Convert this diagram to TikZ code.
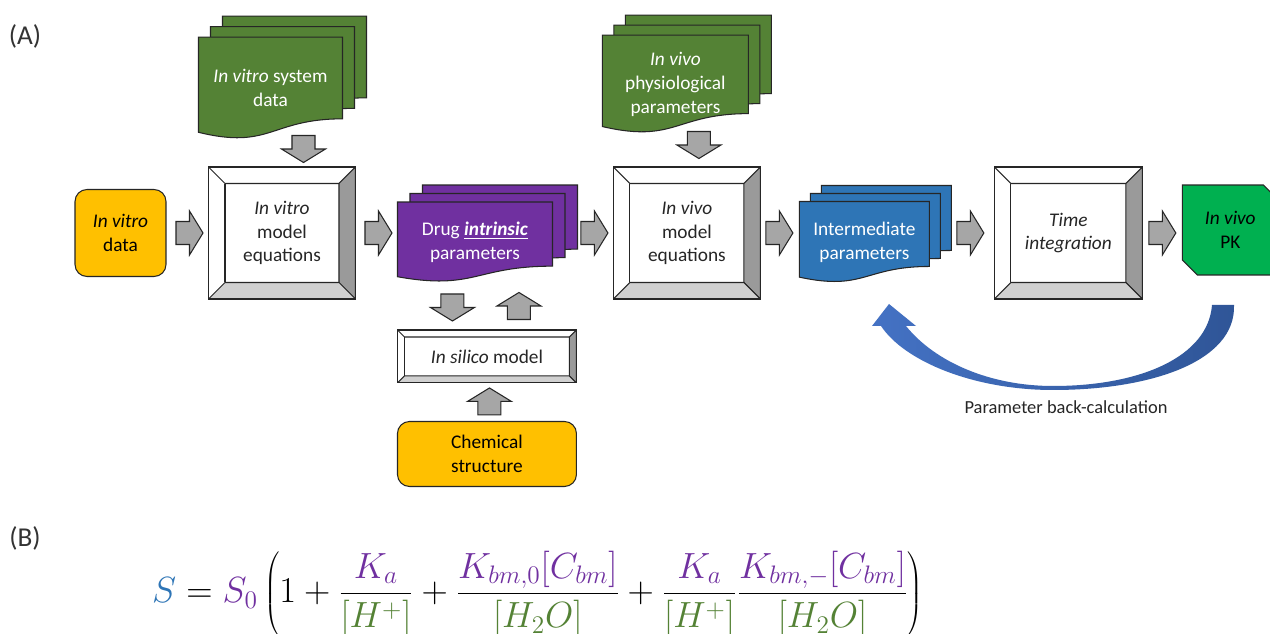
\documentclass[tikz,border=0pt]{standalone}
\usepackage{fontspec}
\setmainfont{Carlito}
\usetikzlibrary{positioning, calc}

\definecolor{vitroyellow}{HTML}{FFC000}
\definecolor{docgreen}{HTML}{548235}
\definecolor{drugpurple}{HTML}{7030A0}
\definecolor{midblue}{HTML}{2E75B6}
\definecolor{pkgreen}{HTML}{00B050}
\definecolor{arrowgray}{HTML}{A6A6A6}
\definecolor{bevelgray}{HTML}{9A9A9A}
\definecolor{bevellight}{HTML}{D0D0D0}
\definecolor{curvelight}{HTML}{4472C4}
\definecolor{curvedark}{HTML}{2F5597}
\definecolor{eqblue}{HTML}{2E75B6}
\definecolor{eqpurple}{HTML}{7030A0}
\definecolor{eqgreen}{HTML}{548235}

\pgfdeclarelayer{background}
\pgfsetlayers{background,main}

% stack of three document pages behind a node
\newcommand{\docstack}[6]{%
  \begin{pgfonlayer}{background}
    \foreach \k in {2,1,0}{
      \begin{scope}[shift={($(#1.north west)+(\k*#4,\k*#5)$)}]
        \draw[docline, fill=#6] (0,0) -- (#2,0) -- (#2,0.802*#3)
          .. controls (0.5*#2,0.802*#3) and (0.5*#2,1.1075*#3) .. (0,0.934*#3) -- cycle;
      \end{scope}}
  \end{pgfonlayer}}

\begin{document}
\begin{tikzpicture}[x=0.02cm, y=-0.02cm,
    docline/.style={draw=black!85, line width=0.6pt},
    boxfont/.style={font=\fontsize{11}{13.6}\selectfont},
    softbox/.style={rectangle, 
      rounded corners=2.4mm, 
      draw=black!85, 
      line width=0.6pt, 
      fill=vitroyellow, 
      align=center, 
      boxfont},
    docnode/.style={rectangle, 
      inner sep=0pt, 
      outer sep=0pt, 
      align=center, 
      text=white, 
      boxfont},
    bevelbox/.style={rectangle, 
      draw=black!85, 
      line width=0.6pt, 
      fill=white, 
      inner sep=0pt, 
      outer sep=0pt, 
      align=center, 
      text=black!85, 
      boxfont,
      path picture={
        \coordinate (bnw) at (path picture bounding box.north west);
        \coordinate (bne) at (path picture bounding box.north east);
        \coordinate (bse) at (path picture bounding box.south east);
        \coordinate (bsw) at (path picture bounding box.south west);
        \draw[docline, fill=bevelgray] (bne) -- (bse) -- ($(bse)+(-#1,#1)$) -- ($(bne)+(-#1,-#1)$) -- cycle;
        \draw[docline, fill=bevellight] (bse) -- (bsw) -- ($(bsw)+(#1,#1)$) -- ($(bse)+(-#1,#1)$) -- cycle;
        \draw[docline] (bnw) -- ($(bnw)+(#1,-#1)$) -- ($(bne)+(-#1,-#1)$);
        \draw[docline] ($(bnw)+(#1,-#1)$) -- ($(bsw)+(#1,#1)$);}},
    pics/flowarrow/.style={code={
      \draw[docline, fill=arrowgray] (-13.5,-11.5) -- (0,-11.5) -- (0,-22) -- (13.5,0) 
        -- (0,22) -- (0,11.5) -- (-13.5,11.5) -- cycle;}}]

  \useasboundingbox (0,0) rectangle (1270,634);
  \begin{pgfonlayer}{background}
    \fill[white] (0,0) rectangle (1270,634);
  \end{pgfonlayer}

  \node[font=\fontsize{15.5}{18}\selectfont, text=black!80] (panelA) at (25,36) {(A)};
  \node[font=\fontsize{15.5}{18}\selectfont, text=black!80] (panelB) at (25,538) {(B)};

% MAIN ROW

  \node[softbox, 
    minimum width=18.2mm, 
    minimum height=17.4mm] (vitrodata) at (120.5,233) {\textit{In vitro}\\data};

  \node[bevelbox=3.3mm, 
    minimum width=29.4mm, 
    minimum height=26.4mm, 
    right=8.4mm of vitrodata] (vitromodel) {\textit{In vitro}\\model\\equations};

  \node[docnode, 
    minimum width=31mm, 
    minimum height=16mm, 
    right=8.4mm of vitromodel, 
    yshift=-1.8mm] (drugpar) {Drug \underline{\textbf{\textit{intrinsic}}}\\parameters};

  \node[bevelbox=3.3mm, 
    minimum width=29.4mm, 
    minimum height=26.4mm, 
    right=12.2mm of drugpar, 
    yshift=1.8mm] (vivomodel) {\textit{In vivo}\\model\\equations};

  \node[docnode, 
    minimum width=26mm, 
    minimum height=16.2mm, 
    right=7.8mm of vivomodel, 
    yshift=-1.8mm] (interpar) {Intermediate\\parameters};

  \node[bevelbox=3.3mm, 
    minimum width=29.6mm, 
    minimum height=26.4mm, 
    right=13mm of interpar, 
    yshift=1.8mm] (timeint) {\textit{Time}\\\textit{integration}};

  \node[docnode, 
    text=black, 
    minimum width=19.2mm, 
    minimum height=18mm, 
    right=8mm of timeint, 
    yshift=0.6mm] (pk) {\textit{In vivo}\\PK};

% INPUTS ABOVE AND BELOW

  \node[docnode, 
    minimum width=28.8mm, 
    minimum height=20.4mm, 
    above=5.6mm of vitromodel, 
    xshift=-2.3mm] (vitrosys) {\textit{In vitro} system\\data};

  \node[docnode, 
    minimum width=29.2mm, 
    minimum height=19.6mm, 
    above=6.8mm of vivomodel, 
    xshift=-2.3mm] (vivopar) {\textit{In vivo}\\physiological\\parameters};

  \node[bevelbox=1.4mm, 
    minimum width=35.8mm, 
    minimum height=10.6mm, 
    below=9.6mm of drugpar, 
    xshift=2.4mm] (insilico) {\textit{In silico} model};

  \node[softbox, 
    minimum width=35.8mm, 
    minimum height=13mm, 
    below=7.6mm of insilico] (chemical) {Chemical\\structure};

  \docstack{vitrosys}{144}{102}{12}{-10.5}{docgreen}
  \docstack{vivopar}{146}{98}{11.5}{-10}{docgreen}
  \docstack{drugpar}{155}{80}{12.5}{-8.5}{drugpurple}
  \docstack{interpar}{130}{81}{11}{-8}{midblue}

  \begin{pgfonlayer}{background}
    \draw[docline, fill=pkgreen] (pk.north west) -- ($(pk.north east)+(-15,0)$) 
      -- ($(pk.north east)+(0,15)$) -- (pk.south east) 
      -- ($(pk.south west)+(15,0)$) -- ($(pk.south west)+(0,-15)$) -- cycle;
  \end{pgfonlayer}

% BLOCK ARROWS

  \pic at ($(vitromodel.west)+(-19,0)$) {flowarrow};
  \pic at ($(vitromodel.east)+(23,0)$) {flowarrow};
  \pic at ($(vivomodel.west)+(-19,0)$) {flowarrow};
  \pic at ($(vivomodel.east)+(19,0)$) {flowarrow};
  \pic at ($(timeint.west)+(-24,0)$) {flowarrow};
  \pic at ($(timeint.east)+(20,0)$) {flowarrow};
  \pic[rotate=-90] at ($(vitromodel.north)+(21.5,-18)$) {flowarrow};
  \pic[rotate=-90] at ($(vivomodel.north)+(12,-22)$) {flowarrow};
  \pic[rotate=-90] at ($(insilico.north)+(-34.5,-22.5)$) {flowarrow};
  \pic[rotate=90] at ($(insilico.north)+(32,-24)$) {flowarrow};
  \pic[rotate=90] at ($(chemical.north)+(2.5,-19.5)$) {flowarrow};

% BACK-CALCULATION

  \shade[left color=curvelight, right color=curvedark] (1234,305) 
    .. controls (1236,362) and (1150,390) .. (1053,390) 
    .. controls (975,390) and (905,362) .. (881,326) 
    -- (872,326) -- (889,304) -- (916,326) -- (906,326) 
    .. controls (935,362) and (990,386) .. (1053,386) 
    .. controls (1140,386) and (1208,357) .. (1212,305) -- cycle;

  \node[font=\fontsize{10.5}{12}\selectfont, text=black!85] (backcalc) at (1066,407) {Parameter back-calculation};

% SOLUBILITY EQUATION

  \node[anchor=west, font=\fontsize{19.5}{23}\selectfont] (soleq) at (146,594) {$\displaystyle 
    {\color{eqblue}S} = {\color{eqpurple}S_0}\left(1+\frac{\color{eqpurple}K_a}{\color{eqgreen}[H^+]}
    +\frac{\color{eqpurple}K_{bm,0}[C_{bm}]}{\color{eqgreen}[H_2O]}
    +\frac{\color{eqpurple}K_a}{\color{eqgreen}[H^+]}\frac{\color{eqpurple}K_{bm,-}[C_{bm}]}{\color{eqgreen}[H_2O]}\right)$};

\end{tikzpicture}
\end{document}
